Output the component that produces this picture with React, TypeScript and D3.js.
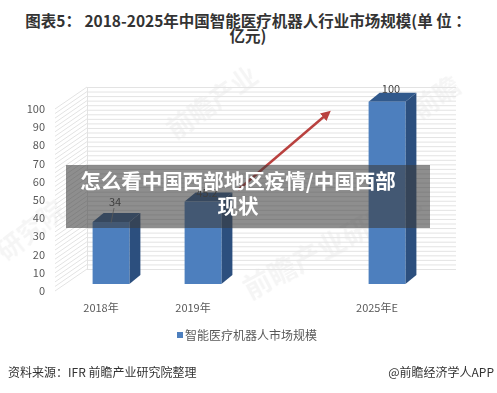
import React, { useEffect, useRef } from 'react';
import * as d3 from 'd3';

const categories = ['2018年', '2019年', '', '2025年E'];
const barCats = ['2018年', '2019年', '2025年E'];
const barValues = [34, 45.2, 100];
const barLabels = ['34', '45.2', '100'];
const yTicks = [0, 10, 20, 30, 40, 50, 60, 70, 80, 90, 100];
const seriesName = '智能医疗机器人市场规模';
const titleLines = ['图表5： 2018-2025年中国智能医疗机器人行业市场规模(单 位 ：', '亿元)'];
const overlayLines = ['怎么看中国西部地区疫情/中国西部', '现状'];
const sourceText = '资料来源：IFR 前瞻产业研究院整理';
const brandText = '@前瞻经济学人APP';

const FONT = '"Noto Sans CJK SC", "Noto Sans", sans-serif';

export default function App() {
  const ref = useRef<SVGSVGElement>(null);

  useEffect(() => {
    const svg = d3.select(ref.current);
    svg.selectAll('*').remove();

    const W = 497, H = 393;
    svg.attr('width', W).attr('height', H).style('display', 'block');
    svg.append('rect').attr('width', W).attr('height', H).attr('fill', '#fff');

    // title
    const title = svg.append('text').attr('text-anchor', 'middle')
      .attr('font-family', FONT).attr('font-weight', 'bold')
      .attr('font-size', 15.5).attr('fill', '#333');
    titleLines.forEach((t, i) => {
      title.append('tspan').attr('x', 248).attr('y', 27 + i * 15).text(t);
    });

    // watermarks
    const wm = svg.append('g').attr('font-family', FONT).attr('font-weight', 'bold')
      .attr('fill', '#000').attr('opacity', 0.04);
    wm.append('text').attr('transform', 'translate(6,262) rotate(-38)').attr('font-size', 26).text('研究院');
    wm.append('text').attr('transform', 'translate(250,300) rotate(-28)').attr('font-size', 28).text('前瞻产业研究院');
    wm.append('text').attr('transform', 'translate(175,140) rotate(-35)').attr('font-size', 26).text('前瞻产业');
    wm.append('text').attr('transform', 'translate(420,120) rotate(-35)').attr('font-size', 26).text('前瞻');

    // 3D grid: front plane + back wall
    const yFront = d3.scaleLinear().domain([0, 100]).range([291, 109]);
    const depthX = 32, depthY = -22;
    const xFront = 55, xBackEnd = 456;
    const minor = d3.range(0, 100.01, 2.5);
    const grid = svg.append('g').attr('stroke', '#e3e3e3').attr('stroke-width', 1).attr('fill', 'none');
    minor.forEach(v => {
      const yb = yFront(v) + depthY;
      grid.append('line').attr('x1', xFront + depthX).attr('x2', xBackEnd)
        .attr('y1', yb + 0.5).attr('y2', yb + 0.5);
      grid.append('line').attr('x1', xFront).attr('y1', yFront(v))
        .attr('x2', xFront + depthX).attr('y2', yb);
    });
    grid.append('line').attr('x1', xFront + depthX + 0.5).attr('x2', xFront + depthX + 0.5)
      .attr('y1', yFront(100) + depthY).attr('y2', yFront(0) + depthY);

    // y axis labels
    svg.append('g').attr('font-family', FONT).attr('font-size', 11).attr('fill', '#595959')
      .attr('text-anchor', 'end')
      .selectAll('text').data(yTicks).enter().append('text')
      .attr('x', 45).attr('y', d => yFront(d) + 4).text(d => String(d));

    // bars
    const x = d3.scaleBand().domain(categories).range([65, 433])
      .paddingInner(0.6).paddingOuter(0.3);
    const yBar = d3.scaleLinear().domain([0, 100]).range([284, 101.7]);
    const bw = x.bandwidth();
    const bdx = 11, bdy = -9;

    // red arrow (drawn behind the 2025 bar)
    const defs = svg.append('defs');
    defs.append('marker').attr('id', 'arr').attr('viewBox', '0 0 10 10')
      .attr('refX', 5).attr('refY', 5).attr('markerWidth', 4).attr('markerHeight', 4)
      .attr('orient', 'auto')
      .append('path').attr('d', 'M0,0 L10,5 L0,10 z').attr('fill', '#b9413f');
    svg.append('line').attr('x1', 238).attr('y1', 190).attr('x2', 327).attr('y2', 114)
      .attr('stroke', '#b9413f').attr('stroke-width', 2.5).attr('marker-end', 'url(#arr)');

    const bars = svg.append('g');
    barCats.forEach((c, i) => {
      const x0 = x(c)!;
      const yt = yBar(barValues[i]);
      const yb = yBar(0);
      bars.append('path')
        .attr('d', `M${x0 + bw},${yt} L${x0 + bw + bdx},${yt + bdy} L${x0 + bw + bdx},${yb + bdy} L${x0 + bw},${yb} Z`)
        .attr('fill', '#2c4f7e');
      bars.append('path')
        .attr('d', `M${x0},${yt} L${x0 + bdx},${yt + bdy} L${x0 + bw + bdx},${yt + bdy} L${x0 + bw},${yt} Z`)
        .attr('fill', '#31598c');
      bars.append('rect').attr('x', x0).attr('y', yt).attr('width', bw).attr('height', yb - yt)
        .attr('fill', '#4d7fbe');
    });

    // data labels
    const labelLift = [16, 5, 9];
    const labels = svg.append('g').attr('font-family', FONT).attr('font-size', 11)
      .attr('fill', '#404040').attr('text-anchor', 'middle');
    barCats.forEach((c, i) => {
      const cx = x(c)! + bw / 2 + 4;
      const yt = yBar(barValues[i]);
      labels.append('text').attr('x', cx).attr('y', yt - labelLift[i]).text(barLabels[i]);
    });
    svg.append('line').attr('x1', 114).attr('y1', 208).attr('x2', 111).attr('y2', 223)
      .attr('stroke', '#7f7f7f').attr('stroke-width', 0.8);

    // x labels
    svg.append('g').attr('font-family', FONT).attr('font-size', 11).attr('fill', '#595959')
      .attr('text-anchor', 'middle')
      .selectAll('text').data(barCats).enter().append('text')
      .attr('x', d => x(d)! + bw / 2 - 10).attr('y', 312).text(d => d);

    // legend
    svg.append('rect').attr('x', 177).attr('y', 332).attr('width', 6).attr('height', 6).attr('fill', '#4d7fbe');
    svg.append('text').attr('x', 185).attr('y', 340).attr('font-family', FONT)
      .attr('font-size', 12).attr('fill', '#595959').text(seriesName);

    // footer
    svg.append('text').attr('x', 8).attr('y', 377).attr('font-family', FONT)
      .attr('font-size', 12).attr('fill', '#333').text(sourceText);
    svg.append('text').attr('x', 494).attr('y', 377).attr('text-anchor', 'end').attr('font-family', FONT)
      .attr('font-size', 12).attr('fill', '#333').text(brandText);

    // overlay banner
    svg.append('rect').attr('x', 66).attr('y', 165).attr('width', 364).attr('height', 63)
      .attr('fill', 'rgb(60,60,60)').attr('opacity', 0.58);
    const ov = svg.append('text').attr('text-anchor', 'middle').attr('font-family', FONT)
      .attr('font-weight', 'bold').attr('font-size', 20.5).attr('fill', '#fff');
    ov.append('tspan').attr('x', 238).attr('y', 189).text(overlayLines[0]);
    ov.append('tspan').attr('x', 238).attr('y', 214).text(overlayLines[1]);
  }, []);

  return <svg ref={ref} style={{ position: 'absolute', left: 0, top: 0 }} />;
}
